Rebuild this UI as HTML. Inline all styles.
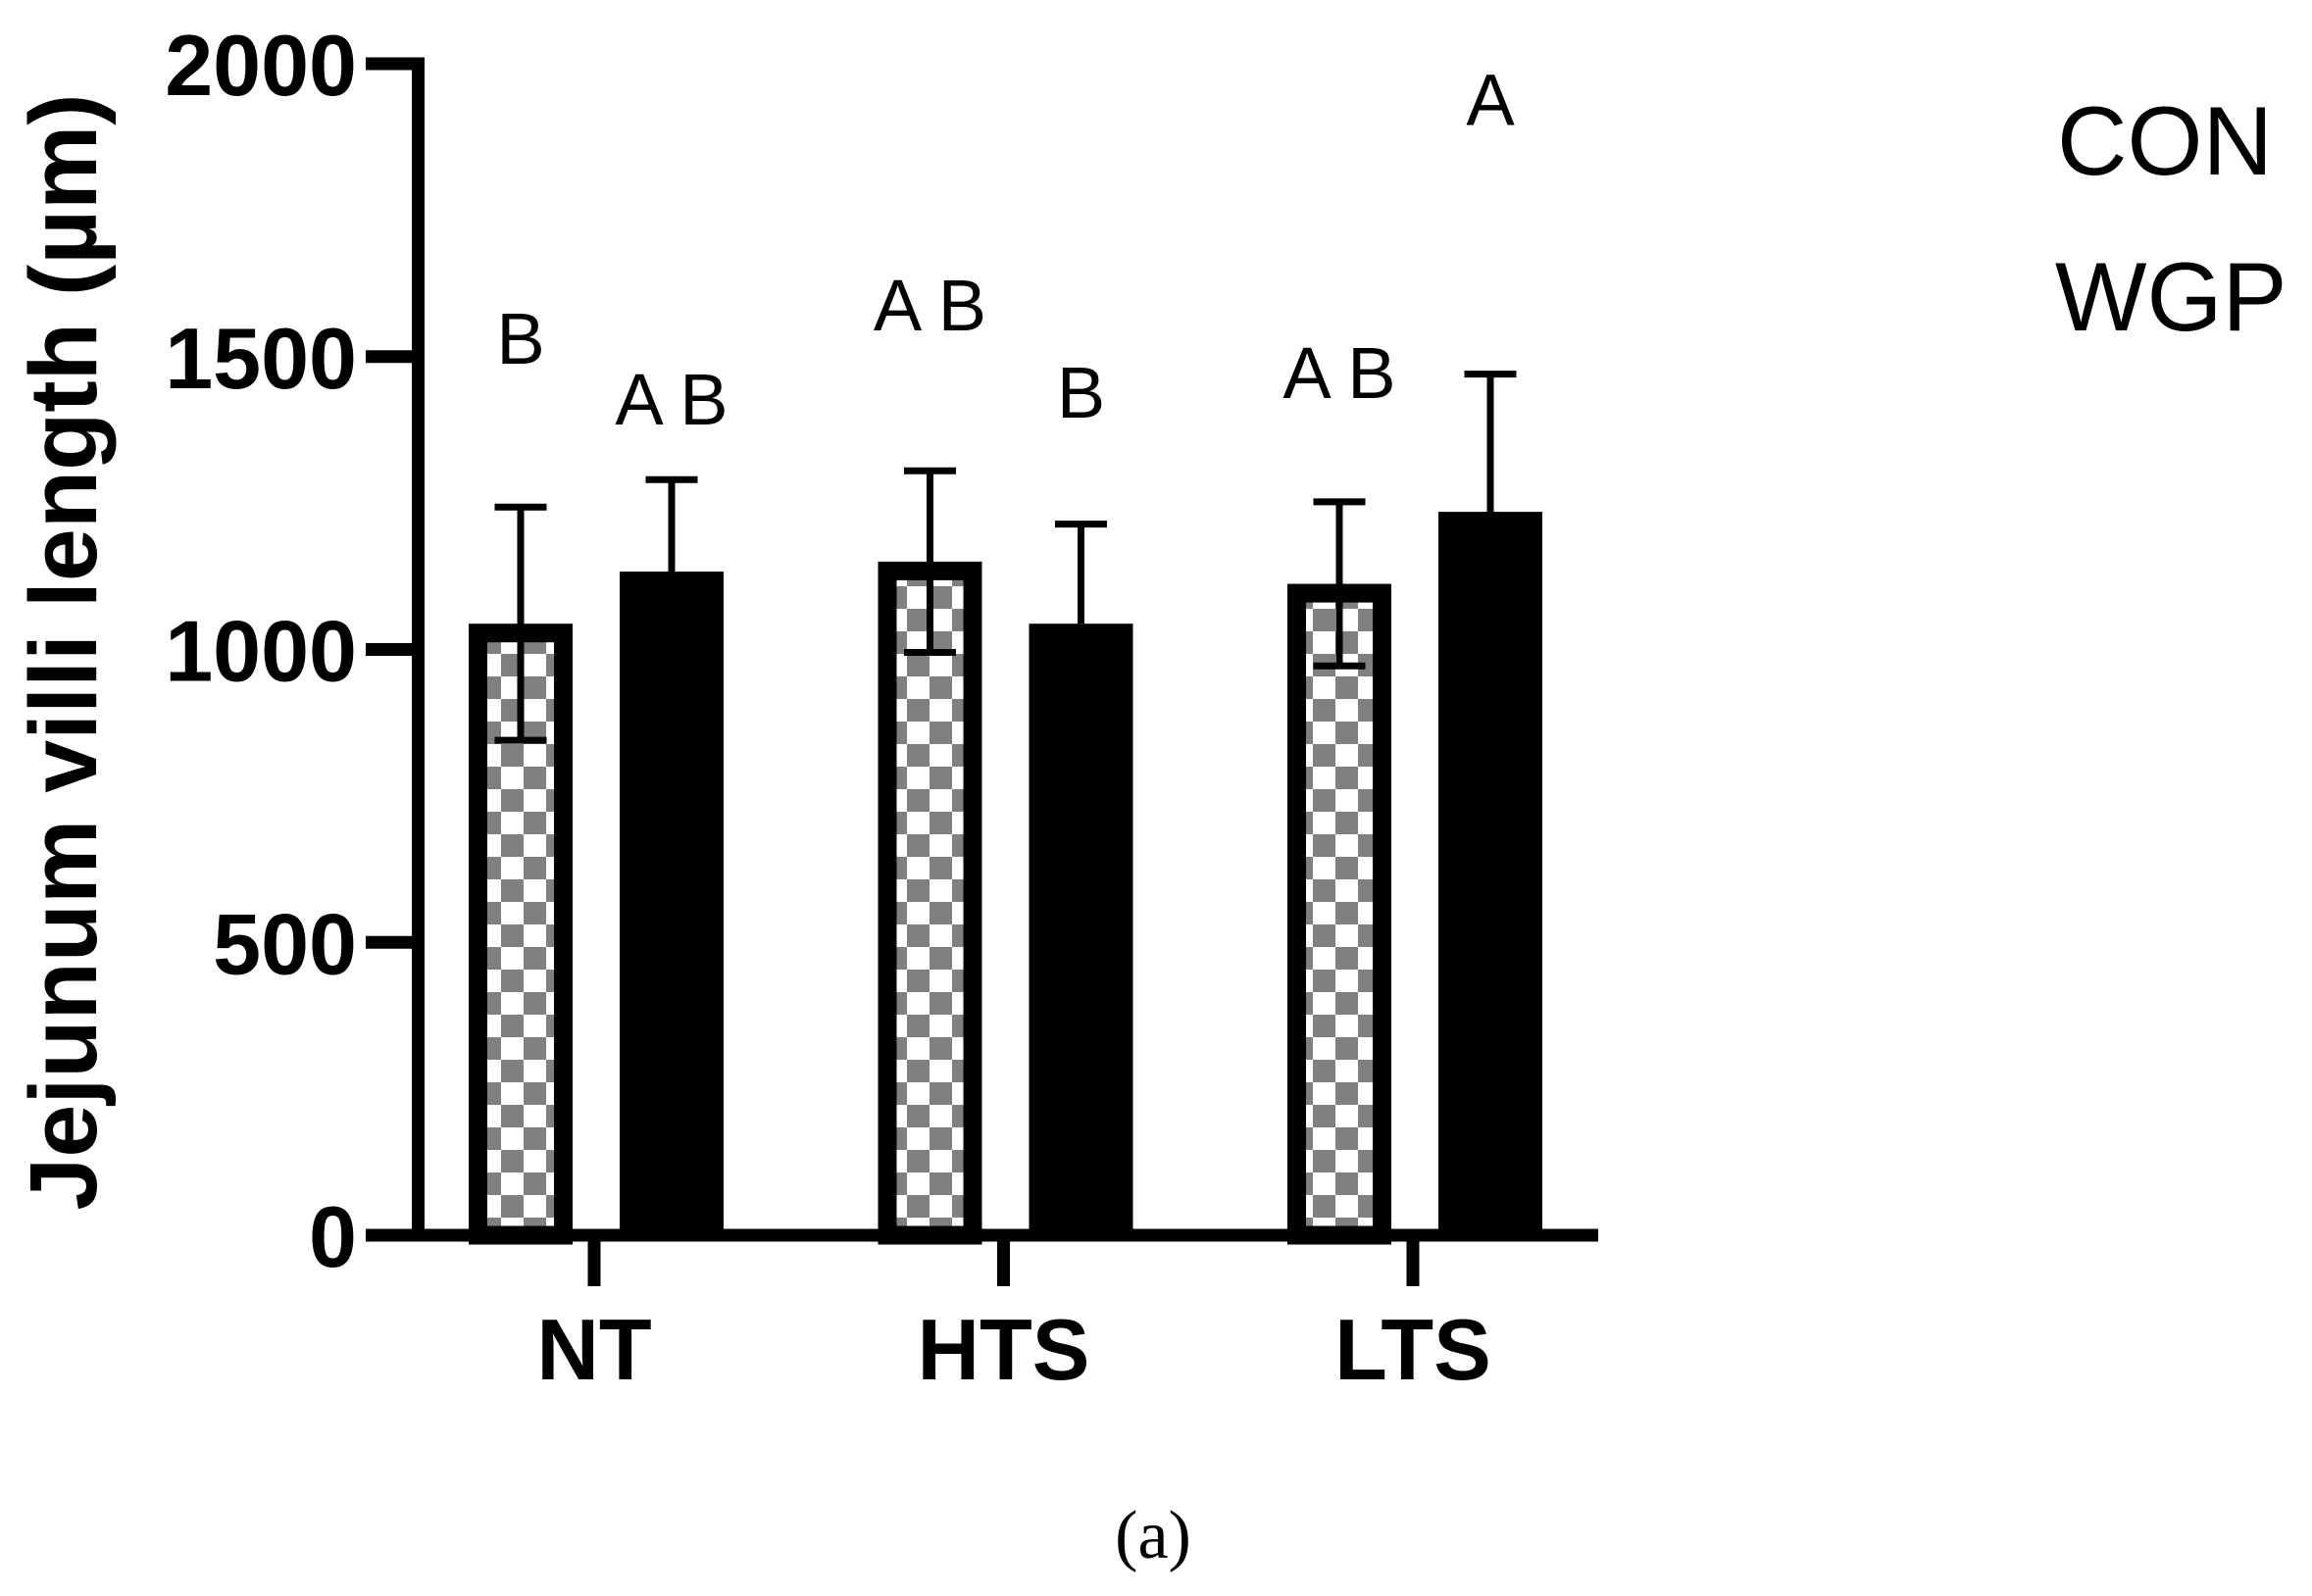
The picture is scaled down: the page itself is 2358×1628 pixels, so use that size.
<!DOCTYPE html>
<html><head><meta charset="utf-8"><style>
html,body{margin:0;padding:0;background:#fff;}
svg{display:block;font-family:"Liberation Sans",Arial,sans-serif;}
</style></head><body>
<svg id="chart" width="2358" height="1628" viewBox="0 0 2358 1628" xmlns="http://www.w3.org/2000/svg">
<defs>
<pattern id="checker" patternUnits="userSpaceOnUse" x="488" y="0" width="46" height="46">
<rect x="0" y="0" width="46" height="46" fill="#fff"/>
<rect x="0" y="0" width="23" height="23" fill="#808080"/>
<rect x="23" y="23" width="23" height="23" fill="#808080"/>
</pattern>
</defs>
<g id="plot"></g>
<text transform="translate(98,665) rotate(-90)" text-anchor="middle" font-size="97" font-weight="bold">Jejunum villi length (µm)</text>
<text x="2098" y="178" font-size="99">CON</text>
<text x="2096" y="337" font-size="99">WGP</text>
<text x="1176" y="1589" text-anchor="middle" font-size="70" font-family="Liberation Serif, serif">(a)</text>
</svg>
<script>
const categories = ["NT", "HTS", "LTS"];
const conValues = [1044, 1150, 1112];
const conErrors = [199, 155, 140];
const wgpValues = [1133, 1044, 1235];
const wgpErrors = [157, 170, 235];
const conLetters = ["B", "A B", "A B"];
const wgpLetters = ["A B", "B", "A"];
const conLetterPos = [1488, 1545, 1429];
const wgpLetterPos = [1384, 1396, 1895];
const yTicks = [0, 500, 1000, 1500, 2000];

const NS = "http://www.w3.org/2000/svg";
const g = document.getElementById("plot");
const y0 = 1260, yScale = 0.5975;
function yPos(v){ return y0 - v * yScale; }
function xCenter(i){ return 606 + i * 417.5; }
function mk(tag, attrs){ const e = document.createElementNS(NS, tag); for (const k in attrs) e.setAttribute(k, attrs[k]); g.appendChild(e); return e; }

const barW = 106, bw = 19;
categories.forEach((c, i) => {
  const cx = xCenter(i);
  const xc = cx - 128;
  const tc = yPos(conValues[i]);
  const r1 = mk("rect", {x: xc + bw/2, y: tc + bw/2, width: barW - bw, height: y0 - tc - bw/2, fill: "url(#checker)", stroke: "#000", "stroke-width": bw});
  
  
  const xw = cx + 26;
  const tw = yPos(wgpValues[i]);
  const r2 = mk("rect", {x: xw, y: tw, width: barW, height: y0 - tw, fill: "#000"});
  
  
  [[xc + barW/2, conValues[i], conErrors[i], true], [xw + barW/2, wgpValues[i], wgpErrors[i], false]].forEach(([ex, v, e, both]) => {
    const top = yPos(v + e), bot = both ? yPos(v - e) : yPos(v);
    const l = mk("line", {x1: ex, x2: ex, y1: top, y2: bot, stroke: "#000", "stroke-width": 7});
    
    
    const cap = mk("line", {x1: ex - 26.5, x2: ex + 26.5, y1: top, y2: top, stroke: "#000", "stroke-width": 7});
    
    
    if (both) {
      const cap2 = mk("line", {x1: ex - 26.5, x2: ex + 26.5, y1: bot, y2: bot, stroke: "#000", "stroke-width": 7});
      
      
    }
  });
  const t1 = mk("text", {x: xc + barW/2, y: yPos(conLetterPos[i]), "text-anchor": "middle", "font-size": 74});
  t1.textContent = conLetters[i];
  
  
  const t2 = mk("text", {x: xw + barW/2, y: yPos(wgpLetterPos[i]), "text-anchor": "middle", "font-size": 74});
  t2.textContent = wgpLetters[i];
  
  
  const tk = mk("line", {x1: cx, x2: cx, y1: y0, y2: 1312, stroke: "#000", "stroke-width": 13});
  
  
  const lb = mk("text", {x: cx, y: 1407, "text-anchor": "middle", "font-size": 88, "font-weight": "bold"});
  lb.textContent = c;
  
  
});

const ya = mk("line", {x1: 426.5, x2: 426.5, y1: yPos(2000) - 6.5, y2: y0 + 6.5, stroke: "#000", "stroke-width": 13});


const xa = mk("line", {x1: 420, x2: 1630, y1: y0, y2: y0, stroke: "#000", "stroke-width": 13});


yTicks.forEach(v => {
  const y = yPos(v);
  const t = mk("line", {x1: 373, x2: 427, y1: y, y2: y, stroke: "#000", "stroke-width": 13});
  
  
  const l = mk("text", {x: 364, y: y + 32, "text-anchor": "end", "font-size": 88, "font-weight": "bold"});
  l.textContent = v;
  
  
});
</script>
</body></html>
